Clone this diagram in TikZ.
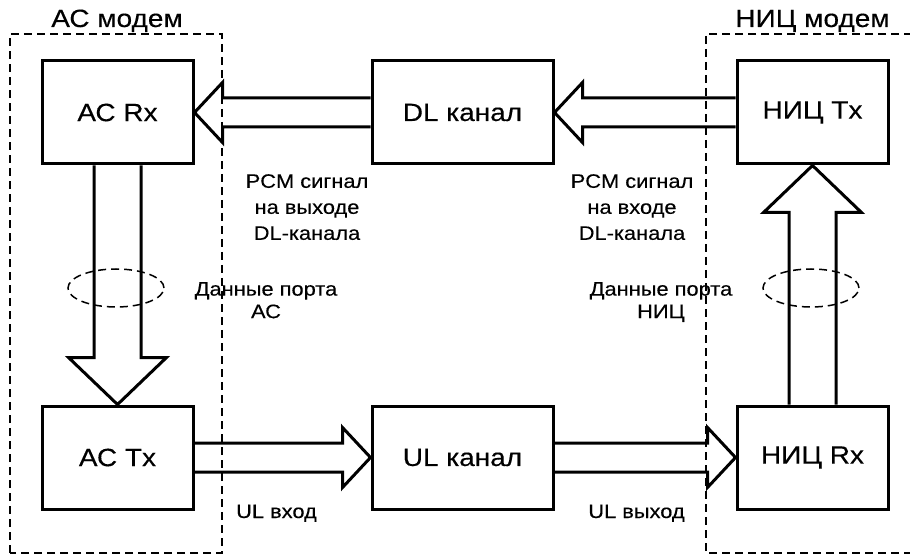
\documentclass[tikz,border=0pt]{standalone}
\usepackage{fontspec}
\setmainfont[FakeStretch=1.12, FakeBold=0.3]{Liberation Sans}
\usetikzlibrary{calc, positioning, shapes.geometric}

% hollow block arrows between node anchors
\newcommand{\harrow}[2]{%
  \draw[fatarr] let \p1=(#1), \p2=(#2), \n1={sign(\x2-\x1)} in
    (\x1,\y2+14.5pt) -- (\x2-\n1*28pt,\y2+14.5pt) -- (\x2-\n1*28pt,\y2+30pt)
    -- (\x2,\y2) -- (\x2-\n1*28pt,\y2-30pt) -- (\x2-\n1*28pt,\y2-14.5pt)
    -- (\x1,\y2-14.5pt);}
\newcommand{\varrow}[2]{%
  \draw[fatarr] let \p1=(#1), \p2=(#2), \n1={sign(\y2-\y1)} in
    (\x2-23.5pt,\y1) -- (\x2-23.5pt,\y2-\n1*47pt) -- (\x2-49pt,\y2-\n1*47pt)
    -- (\x2,\y2) -- (\x2+49pt,\y2-\n1*47pt) -- (\x2+23.5pt,\y2-\n1*47pt)
    -- (\x2+23.5pt,\y1);}

\begin{document}
\begin{tikzpicture}[
    x=1pt, y=1pt,
    every node/.style={inner sep=0pt},
    block/.style={rectangle, draw, line width=3pt, minimum width=151pt,
                  minimum height=103pt, font=\fontsize{25}{30}\selectfont},
    chanblock/.style={block, minimum width=181pt},
    fatarr/.style={line width=3pt},
    frame/.style={line width=1.5pt, dash pattern=on 8pt off 5pt},
    portring/.style={ellipse, draw, line width=1.5pt, dash pattern=on 8pt off 5pt,
                     minimum width=96pt, minimum height=38pt},
    title/.style={font=\fontsize{25}{30}\selectfont, anchor=base},
    lbl/.style={font=\fontsize{19.5}{26}\selectfont, align=center},
    portlbl/.style={font=\fontsize{19.5}{22.5}\selectfont, align=center, anchor=north},
]
\useasboundingbox (0,0) rectangle (910,555);

% modem frames
\draw[frame] (10,2) rectangle (222,521);
\draw[frame] (912,521) -- (706,521) -- (706,2) -- (912,2);
\node[title] (actitle) at (117,528) {АС модем};
\node[title] (ntitle)  at (812.5,528) {НИЦ модем};

% blocks
\node[block] (acrx) at (117.5,442.5) {АС Rx};
\node[chanblock, right=176pt of acrx] (dlk) {DL канал};
\node[block, right=181pt of dlk] (ntx) {НИЦ Tx};
\node[block, below=239pt of acrx] (actx) {АС Tx};
\node[chanblock, below=239pt of dlk] (ulk) {UL канал};
\node[block, below=239pt of ntx] (nrx) {НИЦ Rx};

% arrows
\harrow{dlk.west}{acrx.east}
\harrow{ntx.west}{dlk.east}
\harrow{actx.east}{ulk.west}
\harrow{ulk.east}{nrx.west}
\varrow{acrx.south}{actx.north}
\varrow{nrx.north}{ntx.south}

% port rings
\node[portring] (acring) at (116,267) {};
\node[portring] (nring)  at (811,267) {};

% labels
\node[lbl, anchor=north] (dlout) at (307,381) {PCM сигнал\\на выходе\\DL-канала};
\node[lbl, anchor=north] (dlin)  at (632,381) {PCM сигнал\\на входе\\DL-канала};
\node[portlbl] (acport) at (266,273) {Данные порта\\АС};
\node[portlbl] (nport)  at (661,273) {Данные порта\\НИЦ};
\node[lbl, anchor=base] (ulin)  at (276.5,37) {UL вход};
\node[lbl, anchor=base] (ulout) at (636.5,37) {UL выход};

\end{tikzpicture}
\end{document}
